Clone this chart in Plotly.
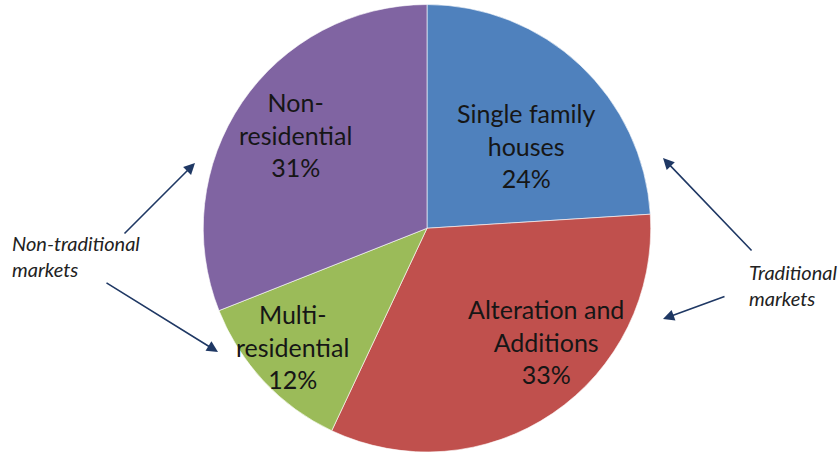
import plotly.graph_objects as go

# Market segments, in clockwise order from 12 o'clock
segments = ["Single family houses", "Alteration and Additions", "Multi-residential", "Non-residential"]
label_lines = [["Single family", "houses"], ["Alteration and", "Additions"], ["Multi-", "residential"], ["Non-", "residential"]]
shares = [24, 33, 12, 31]
colors = ["#4F81BD", "#C0504D", "#9BBB59", "#8064A2"]

W, H = 839, 452

# Label centre points (pixels from top-left) for each slice
label_pos = [(526, 145), (546, 341), (292, 346), (295, 134)]

fig = go.Figure(go.Pie(
    labels=segments,
    values=shares,
    sort=False,
    direction="clockwise",
    rotation=0,
    marker=dict(colors=colors, line=dict(color="rgba(255,255,255,0.6)", width=1)),
    textinfo="none",
    hoverinfo="label+percent",
    showlegend=False,
    domain=dict(x=[(427 - 226) / W, (427 + 226) / W], y=[0.0, 0.99]),
))

font_family = "Lato, 'Open Sans', sans-serif"
annotations = []
for lines, val, (px, py) in zip(label_lines, shares, label_pos):
    annotations.append(dict(
        x=px / W, y=1 - py / H, xref="paper", yref="paper",
        xanchor="center", yanchor="middle",
        text="<br>".join(lines + [f"{val}%"]),
        showarrow=False, align="center",
        font=dict(family=font_family, size=25, color="#161616"),
    ))

# Group callouts
annotations.append(dict(
    x=10 / W, y=1 - 256 / H, xref="paper", yref="paper",
    xanchor="left", yanchor="middle",
    text="<i>Non-traditional<br>markets</i>", showarrow=False, align="left",
    font=dict(family=font_family, size=20, color="#222222"),
))
annotations.append(dict(
    x=747 / W, y=1 - 285 / H, xref="paper", yref="paper",
    xanchor="left", yanchor="middle",
    text="<i>Traditional<br>markets</i>", showarrow=False, align="left",
    font=dict(family=font_family, size=20, color="#222222"),
))

# Arrows: (head_x, head_y, tail_x, tail_y) in pixels
arrows = [
    (195, 163, 123, 235),
    (218, 352, 105, 282),
    (663, 158, 753, 252),
    (663, 319, 726, 296),
]
for hx, hy, tx, ty in arrows:
    annotations.append(dict(
        x=hx / W, y=1 - hy / H, xref="paper", yref="paper",
        ax=tx - hx, ay=ty - hy, axref="pixel", ayref="pixel",
        text="", showarrow=True, arrowhead=2, arrowsize=1.4, arrowwidth=1.6,
        arrowcolor="#1F3864",
    ))

fig.update_layout(
    width=W, height=H,
    margin=dict(l=0, r=0, t=0, b=0),
    paper_bgcolor="white", plot_bgcolor="white",
    annotations=annotations,
)

fig.write_html("out.html")
